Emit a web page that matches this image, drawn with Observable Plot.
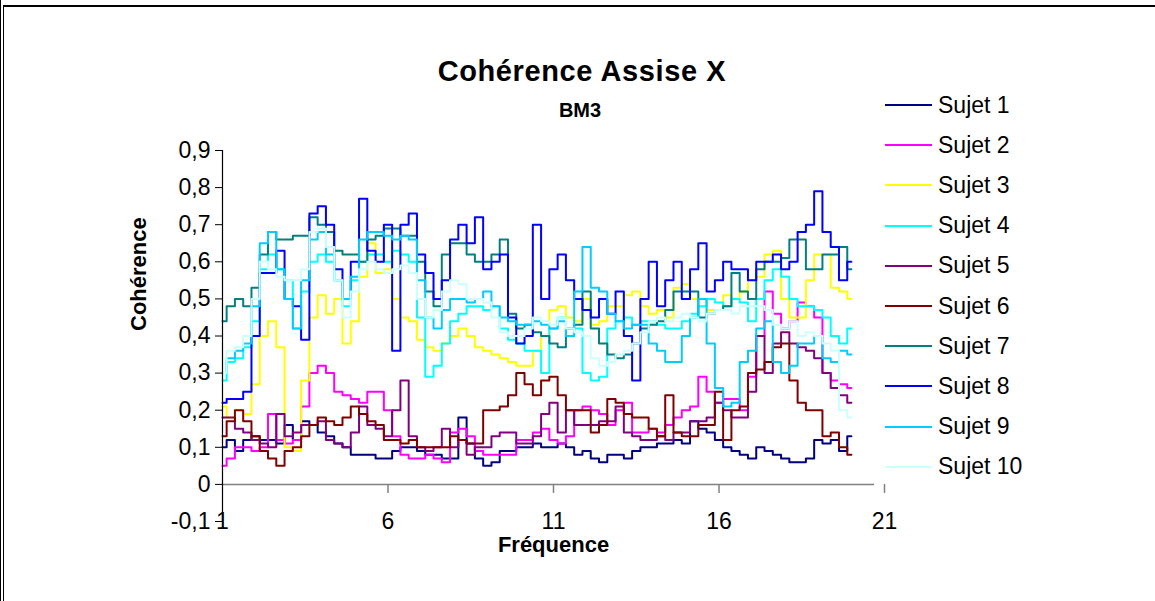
<!DOCTYPE html>
<html><head><meta charset="utf-8">
<script src="https://cdn.jsdelivr.net/npm/d3@7"></script>
<script src="https://cdn.jsdelivr.net/npm/@observablehq/plot@0.6"></script>
<style>
body{margin:0;background:#fff;}
#wrap{position:relative;width:1155px;height:601px;overflow:hidden;font-family:"Liberation Sans",Arial,sans-serif;color:#000;background:#fff;}
.vline{position:absolute;left:0;top:0;width:1px;height:601px;background:#000;}
.frame{position:absolute;left:3px;top:5px;width:1160px;height:600px;border-top:2px solid #000;border-left:1px solid #000;}
#title{position:absolute;left:332px;width:500px;top:57px;text-align:center;font-weight:bold;font-size:29px;line-height:29px;letter-spacing:0.6px;}
#subtitle{position:absolute;left:330px;width:500px;top:100px;text-align:center;font-weight:bold;font-size:20px;line-height:20px;}
#chart{position:absolute;left:0;top:120px;}
#legend{position:absolute;left:885px;top:85px;}
.row{position:absolute;left:0;height:40px;display:flex;align-items:center;white-space:nowrap;font-size:23px;}
.sw{display:inline-block;width:47px;height:2px;margin-right:6px;}
</style></head>
<body>
<div id="wrap">
  <div class="vline"></div><div class="frame"></div>
  <div id="title">Cohérence Assise X</div>
  <div id="subtitle">BM3</div>
  <div id="chart"></div>
  <div id="legend"></div>
</div>
<script>
const seriesNames = ["Sujet 1","Sujet 2","Sujet 3","Sujet 4","Sujet 5","Sujet 6","Sujet 7","Sujet 8","Sujet 9","Sujet 10"];
const seriesColors = ["#000080","#FF00FF","#FFFF00","#00FFFF","#800080","#800000","#008080","#0000FF","#00CCFF","#CCFFFF"];
const freq = [1,1.25,1.5,1.75,2,2.25,2.5,2.75,3,3.25,3.5,3.75,4,4.25,4.5,4.75,5,5.25,5.5,5.75,6,6.25,6.5,6.75,7,7.25,7.5,7.75,8,8.25,8.5,8.75,9,9.25,9.5,9.75,10,10.25,10.5,10.75,11,11.25,11.5,11.75,12,12.25,12.5,12.75,13,13.25,13.5,13.75,14,14.25,14.5,14.75,15,15.25,15.5,15.75,16,16.25,16.5,16.75,17,17.25,17.5,17.75,18,18.25,18.5,18.75,19,19.25,19.5,19.75,20];
const xTicks = [1,6,11,16,21];
const xTickMarks = [6,11,16,21];
const yTicks = [-0.1,0,0.1,0.2,0.3,0.4,0.5,0.6,0.7,0.8,0.9];

const sujet1 = [0.10,0.12,0.09,0.12,0.13,0.12,0.12,0.11,0.16,0.12,0.17,0.16,0.14,0.13,0.11,0.10,0.08,0.08,0.08,0.07,0.07,0.09,0.10,0.10,0.09,0.08,0.08,0.07,0.07,0.18,0.11,0.07,0.05,0.06,0.09,0.09,0.10,0.10,0.11,0.10,0.10,0.11,0.10,0.08,0.09,0.07,0.06,0.08,0.08,0.07,0.09,0.10,0.10,0.11,0.11,0.12,0.11,0.17,0.15,0.14,0.12,0.10,0.09,0.08,0.07,0.10,0.09,0.08,0.07,0.06,0.06,0.07,0.12,0.11,0.12,0.09,0.13];
const sujet2 = [0.05,0.07,0.10,0.10,0.09,0.10,0.19,0.12,0.11,0.12,0.21,0.30,0.32,0.30,0.25,0.24,0.23,0.22,0.25,0.25,0.20,0.13,0.08,0.07,0.07,0.08,0.07,0.06,0.14,0.15,0.13,0.09,0.08,0.08,0.08,0.08,0.12,0.12,0.14,0.15,0.12,0.11,0.13,0.20,0.21,0.20,0.19,0.16,0.20,0.22,0.14,0.14,0.15,0.14,0.16,0.18,0.20,0.21,0.29,0.25,0.22,0.23,0.23,0.20,0.29,0.40,0.52,0.46,0.42,0.44,0.49,0.48,0.45,0.30,0.28,0.27,0.26];
const sujet3 = [0.21,0.18,0.20,0.19,0.27,0.40,0.44,0.37,0.10,0.09,0.28,0.45,0.51,0.46,0.50,0.38,0.44,0.56,0.65,0.57,0.58,0.50,0.45,0.44,0.39,0.37,0.36,0.38,0.40,0.42,0.40,0.37,0.36,0.35,0.34,0.33,0.32,0.32,0.36,0.40,0.47,0.48,0.45,0.44,0.50,0.43,0.44,0.48,0.48,0.51,0.52,0.48,0.46,0.47,0.45,0.53,0.54,0.50,0.50,0.47,0.47,0.51,0.50,0.52,0.55,0.56,0.62,0.63,0.50,0.45,0.45,0.55,0.62,0.62,0.53,0.52,0.50];
const sujet4 = [0.28,0.33,0.34,0.37,0.44,0.58,0.62,0.58,0.55,0.42,0.52,0.60,0.62,0.60,0.55,0.48,0.55,0.60,0.62,0.62,0.60,0.63,0.62,0.60,0.45,0.29,0.32,0.38,0.44,0.46,0.48,0.48,0.47,0.48,0.42,0.39,0.38,0.36,0.36,0.30,0.42,0.45,0.40,0.42,0.30,0.28,0.29,0.42,0.44,0.45,0.43,0.44,0.44,0.43,0.42,0.42,0.44,0.46,0.48,0.50,0.49,0.48,0.50,0.49,0.44,0.50,0.55,0.58,0.56,0.50,0.48,0.48,0.47,0.45,0.40,0.38,0.42];
const sujet5 = [0.18,0.18,0.15,0.14,0.12,0.11,0.10,0.19,0.13,0.14,0.16,0.16,0.17,0.12,0.11,0.10,0.14,0.21,0.16,0.15,0.13,0.20,0.28,0.13,0.10,0.09,0.10,0.15,0.10,0.12,0.08,0.10,0.10,0.13,0.14,0.14,0.11,0.11,0.13,0.19,0.22,0.14,0.20,0.16,0.16,0.16,0.17,0.17,0.21,0.14,0.13,0.12,0.12,0.13,0.12,0.14,0.14,0.17,0.17,0.18,0.22,0.20,0.18,0.18,0.25,0.40,0.30,0.38,0.41,0.38,0.37,0.36,0.34,0.30,0.26,0.24,0.22];
const sujet6 = [0.13,0.17,0.20,0.17,0.13,0.09,0.07,0.05,0.09,0.10,0.13,0.16,0.18,0.17,0.16,0.18,0.21,0.19,0.17,0.16,0.12,0.12,0.11,0.12,0.10,0.10,0.10,0.10,0.13,0.12,0.11,0.11,0.20,0.20,0.21,0.24,0.30,0.27,0.24,0.28,0.29,0.24,0.20,0.20,0.20,0.14,0.16,0.23,0.22,0.19,0.18,0.18,0.15,0.13,0.24,0.14,0.13,0.13,0.16,0.16,0.25,0.12,0.20,0.21,0.30,0.31,0.33,0.37,0.38,0.28,0.22,0.20,0.20,0.13,0.14,0.10,0.08];
const sujet7 = [0.44,0.48,0.50,0.48,0.53,0.62,0.68,0.66,0.66,0.67,0.67,0.72,0.70,0.68,0.63,0.62,0.62,0.60,0.66,0.67,0.69,0.69,0.67,0.67,0.60,0.52,0.48,0.62,0.65,0.65,0.62,0.60,0.60,0.62,0.66,0.46,0.42,0.43,0.41,0.40,0.38,0.37,0.42,0.43,0.52,0.42,0.38,0.35,0.34,0.35,0.38,0.42,0.43,0.44,0.47,0.52,0.52,0.52,0.45,0.46,0.47,0.48,0.57,0.52,0.50,0.58,0.60,0.60,0.61,0.66,0.66,0.58,0.58,0.62,0.62,0.64,0.58];
const sujet8 = [0.22,0.23,0.23,0.25,0.40,0.57,0.57,0.63,0.50,0.48,0.39,0.73,0.75,0.70,0.58,0.50,0.60,0.77,0.63,0.60,0.70,0.36,0.70,0.73,0.62,0.57,0.50,0.55,0.66,0.70,0.65,0.72,0.58,0.60,0.62,0.45,0.38,0.40,0.70,0.50,0.58,0.62,0.55,0.50,0.47,0.45,0.50,0.46,0.52,0.40,0.28,0.50,0.60,0.48,0.55,0.60,0.50,0.58,0.65,0.52,0.55,0.60,0.58,0.58,0.55,0.60,0.60,0.62,0.58,0.60,0.68,0.70,0.79,0.68,0.64,0.55,0.60];
const sujet9 = [0.30,0.34,0.36,0.38,0.48,0.65,0.68,0.58,0.50,0.42,0.55,0.66,0.68,0.62,0.55,0.50,0.56,0.66,0.68,0.68,0.67,0.66,0.67,0.66,0.55,0.45,0.42,0.47,0.50,0.50,0.49,0.50,0.52,0.48,0.45,0.44,0.43,0.43,0.44,0.43,0.42,0.44,0.40,0.52,0.64,0.53,0.52,0.46,0.44,0.42,0.43,0.43,0.38,0.36,0.33,0.33,0.40,0.45,0.50,0.38,0.26,0.21,0.22,0.33,0.36,0.42,0.44,0.33,0.30,0.32,0.38,0.38,0.40,0.34,0.33,0.36,0.35];
const sujet10 = [0.30,0.36,0.37,0.40,0.50,0.60,0.58,0.56,0.55,0.55,0.58,0.68,0.69,0.64,0.55,0.45,0.52,0.58,0.60,0.58,0.57,0.58,0.59,0.57,0.50,0.45,0.47,0.52,0.55,0.54,0.50,0.50,0.49,0.45,0.41,0.40,0.40,0.42,0.45,0.44,0.43,0.45,0.42,0.41,0.40,0.34,0.32,0.33,0.35,0.36,0.38,0.41,0.44,0.45,0.44,0.45,0.46,0.45,0.44,0.46,0.47,0.47,0.46,0.48,0.48,0.48,0.47,0.43,0.42,0.44,0.40,0.41,0.40,0.38,0.36,0.20,0.18];

const allSeries = [sujet1,sujet2,sujet3,sujet4,sujet5,sujet6,sujet7,sujet8,sujet9,sujet10];
const table = [];
allSeries.forEach((vals, k) => vals.forEach((v, i) => table.push({freq: freq[i], value: v, series: seriesNames[k]})));

const fmt = d => d === 0 ? "0" : d.toFixed(1).replace(".", ",");

const chart = Plot.plot({
  width: 910,
  height: 440,
  marginLeft: 222,
  marginRight: 26,
  marginTop: 30,
  marginBottom: 39,
  style: {fontFamily: "'Liberation Sans', Arial, sans-serif", fontSize: "23px", color: "#000", background: "transparent", overflow: "visible"},
  x: {domain: [1, 21]},
  y: {domain: [-0.1, 0.9]},
  color: {domain: seriesNames, range: seriesColors},
  marks: [
    Plot.ruleY([0], {x1: 1, x2: 20.7, stroke: "#808080", strokeWidth: 1.5}),
    Plot.ruleX(xTickMarks, {y1: 0, y2: 0, insetBottom: -9, stroke: "#808080", strokeWidth: 1.5}),
    Plot.line(table, {x: "freq", y: "value", z: "series", stroke: "series", curve: "step", strokeWidth: 2}),
    Plot.ruleX([1], {stroke: "#000", strokeWidth: 1.2}),
    Plot.axisY({ticks: yTicks, tickFormat: fmt, tickSize: 7, tickPadding: 5, fontSize: 23, label: null, stroke: "#000"}),
    Plot.axisX({ticks: xTicks, tickFormat: d => String(d), tickSize: 0, tickPadding: -9, fontSize: 23, label: null}),
    Plot.text(["Fréquence"], {frameAnchor: "bottom", dy: 30, fontSize: 22, fontWeight: "bold"}),
    Plot.text(["Cohérence"], {frameAnchor: "left", rotate: -90, dx: -84, dy: -5, fontSize: 22, fontWeight: "bold"})
  ]
});
document.getElementById("chart").appendChild(chart);

const legend = d3.select("#legend");
seriesNames.forEach((name, i) => {
  const row = legend.append("div").attr("class", "row").style("top", (i * 40.2) + "px");
  row.append("span").attr("class", "sw").style("background", seriesColors[i]);
  row.append("span").text(name);
});
</script>
</body></html>
